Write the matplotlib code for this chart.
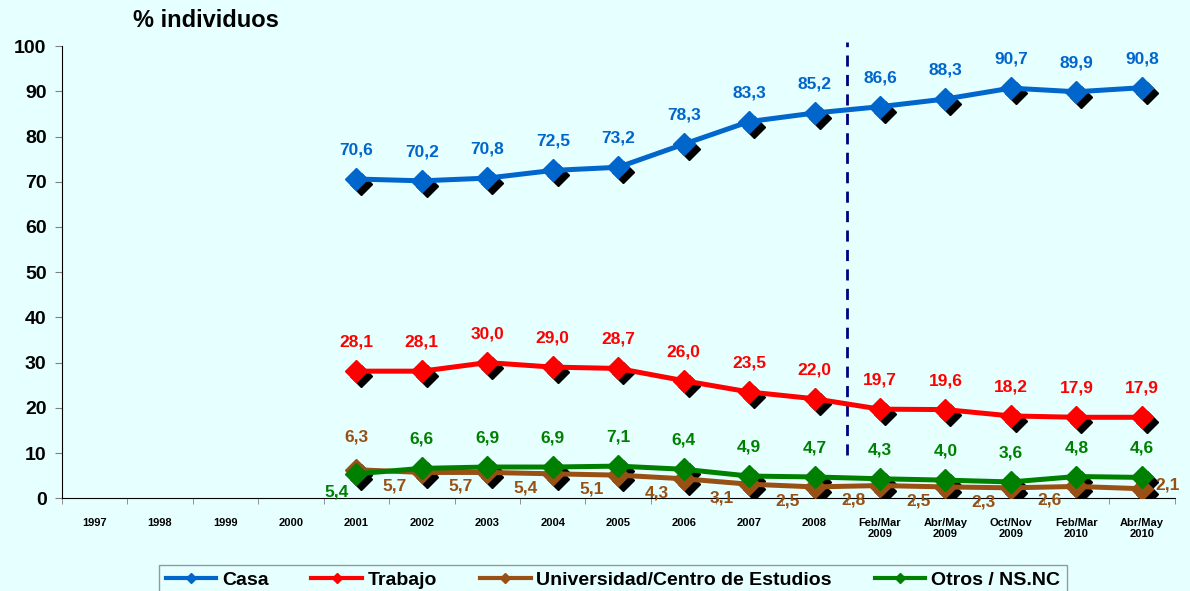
import numpy as np
import matplotlib.pyplot as plt
from matplotlib.transforms import offset_copy

categories = ['1997', '1998', '1999', '2000', '2001', '2002', '2003', '2004', '2005',
              '2006', '2007', '2008', 'Feb/Mar\n2009', 'Abr/May\n2009', 'Oct/Nov\n2009',
              'Feb/Mar\n2010', 'Abr/May\n2010']
first = 4  # data starts at 2001

casa = [70.6, 70.2, 70.8, 72.5, 73.2, 78.3, 83.3, 85.2, 86.6, 88.3, 90.7, 89.9, 90.8]
trabajo = [28.1, 28.1, 30.0, 29.0, 28.7, 26.0, 23.5, 22.0, 19.7, 19.6, 18.2, 17.9, 17.9]
univ = [6.3, 5.7, 5.7, 5.4, 5.1, 4.3, 3.1, 2.5, 2.8, 2.5, 2.3, 2.6, 2.1]
otros = [5.4, 6.6, 6.9, 6.9, 7.1, 6.4, 4.9, 4.7, 4.3, 4.0, 3.6, 4.8, 4.6]

bg = '#E6FFFF'
c_casa, c_trab, c_univ, c_otros = '#0066CC', '#FF0000', '#995014', '#008000'

plt.rcParams['font.family'] = ['Liberation Sans', 'DejaVu Sans']
fig = plt.figure(figsize=(11.9, 5.91), dpi=100, facecolor=bg)
ax = fig.add_axes([0.052, 0.157, 0.935, 0.765], facecolor=bg)

x = np.arange(len(categories))
xs = x[first:]

series = [
    ('Casa', casa, c_casa),
    ('Trabajo', trabajo, c_trab),
    ('Universidad/Centro de Estudios', univ, c_univ),
    ('Otros / NS.NC', otros, c_otros),
]

shadow = offset_copy(ax.transData, fig=fig, x=5, y=-5, units='dots')
for name, vals, col in series:
    ax.plot(xs, vals, 'D', color='black', ms=11, transform=shadow, zorder=2)
handles = []
for i, (name, vals, col) in enumerate(series):
    h, = ax.plot(xs, vals, '-D', color=col, lw=3.6, ms=11, zorder=3 + i, label=name)
    handles.append(h)

def lab(v):
    return f'{v:.1f}'.replace('.', ',')

def put(xi, v, off, col):
    ax.annotate(lab(v), (xi, v), xytext=off, textcoords='offset pixels', ha='center',
                va='center', color=col, fontsize=12.5, fontweight='bold', zorder=10)

for xi, v in zip(xs, casa):
    put(xi, v, (0, 29), c_casa)
for xi, v in zip(xs, trabajo):
    put(xi, v, (0, 29), c_trab)
for k, (xi, v) in enumerate(zip(xs, univ)):
    if k == 0:
        off = (0, 33)
    elif k == len(univ) - 1:
        off = (26, 4)
    else:
        off = (-27, -14)
    put(xi, v, off, c_univ)
for k, (xi, v) in enumerate(zip(xs, otros)):
    off = (-20, -18) if k == 0 else (0, 29)
    put(xi, v, off, c_otros)

ax.axvline(11.5, ymin=0.095, ymax=1.01, color='#000080', lw=2, ls=(0, (4, 3)), clip_on=False)

ax.set_xlim(-0.5, len(categories) - 0.5)
ax.set_ylim(0, 100)
ax.set_yticks(np.arange(0, 101, 10))
ax.set_yticklabels([str(v) for v in range(0, 101, 10)], fontsize=14, fontweight='bold')
ax.set_xticks(x)
ax.set_xticklabels(categories, fontsize=8, fontweight='bold')
ax.set_xticks(np.arange(-0.5, len(categories), 1), minor=True)
ax.tick_params(axis='x', which='major', length=0, pad=14)
ax.tick_params(axis='x', which='minor', length=4, color='gray')
ax.tick_params(axis='y', length=5, color='gray', pad=6)
for s in ['top', 'right']:
    ax.spines[s].set_visible(False)

fig.text(0.112, 0.966, '% individuos', fontsize=17, fontweight='bold', va='center')

leg = fig.legend(handles=handles, loc='upper center', bbox_to_anchor=(0.515, 1 - 555 / 591),
                 ncol=4, frameon=True, fancybox=False, edgecolor='gray', facecolor=bg,
                 prop={'size': 14, 'weight': 'bold'}, handlelength=2.6, handletextpad=0.3,
                 columnspacing=2.2, borderpad=0.35)
for h in leg.legend_handles:
    h.set_markersize(5)
    h.set_linewidth(3)

fig.savefig('out.png', dpi=100, facecolor=bg)
